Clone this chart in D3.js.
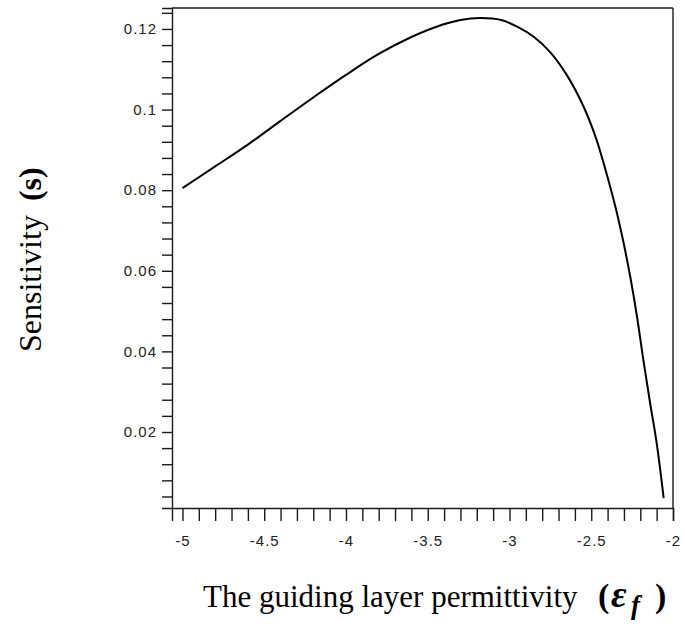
<!DOCTYPE html>
<html>
<head>
<meta charset="utf-8">
<script src="https://cdn.jsdelivr.net/npm/d3@7"></script>
<style>
  body { margin: 0; background: #fff; }
  svg { display: block; }
</style>
</head>
<body>
<svg></svg>
<script>
// permittivity values (x) and sensitivity
let permittivity = [-5.0, -4.8, -4.6, -4.4, -4.2, -4.0, -3.8, -3.6, -3.45, -3.3,
  -3.18, -3.05, -2.95, -2.85, -2.75, -2.65, -2.55, -2.47, -2.4, -2.35,
  -2.3, -2.26, -2.22, -2.18, -2.14, -2.1, -2.057]
let sensitivity = [0.0805, 0.0859, 0.0913, 0.0972, 0.1030, 0.1086, 0.1138, 0.1180, 0.1205, 0.1222,
  0.1227, 0.1222, 0.1205, 0.1180, 0.1142, 0.1086, 0.1010, 0.0928, 0.0832, 0.0755,
  0.0665, 0.0582, 0.0486, 0.0375, 0.0272, 0.0173, 0.0036]

let xTickLabels = [-5, -4.5, -4, -3.5, -3, -2.5, -2]
let yTickLabels = [0.02, 0.04, 0.06, 0.08, 0.1, 0.12]

let width = 685
let height = 624
let plotLeft = 172, plotRight = 673, plotTop = 8, plotBottom = 508

let svg = d3.select('svg').attr('width', width).attr('height', height)

let xScale = d3.scaleLinear().domain([-5.064, -2]).range([plotLeft, plotRight])
let yScale = d3.scaleLinear().domain([0.00114, 0.1252]).range([plotBottom, plotTop])

// minor ticks every 0.1 / 0.004
let xMinor = d3.range(0, 31).map(i => +(-5 + i * 0.1).toFixed(2))
let yMinor = d3.range(1, 32).map(i => +(i * 0.004).toFixed(3))

let isLabel = (list, d) => list.some(v => Math.abs(v - d) < 1e-6)

let xAxis = d3.axisBottom(xScale)
  .tickValues(xMinor)
  .tickSizeInner(13).tickSizeOuter(13).tickPadding(14)
  .tickFormat(d => isLabel(xTickLabels, d) ? String(d) : '')

let yAxis = d3.axisLeft(yScale)
  .tickValues(yMinor)
  .tickSizeInner(10).tickSizeOuter(10).tickPadding(5)
  .tickFormat(d => isLabel(yTickLabels, d) ? String(d) : '')

let gx = svg.append('g').attr('transform', 'translate(0,' + plotBottom + ')').call(xAxis)
let gy = svg.append('g').attr('transform', 'translate(' + plotLeft + ',0)').call(yAxis)

for (let g of [gx, gy]) {
  g.selectAll('path, line').attr('stroke', '#1a1a1a').attr('stroke-width', 1.4)
  g.selectAll('text')
    .attr('fill', '#222')
    .style('font-family', '"Liberation Sans", Arial, sans-serif')
    .style('font-size', '15px')
    .style('letter-spacing', '1px')
}

// top and right frame
svg.append('line').attr('x1', plotLeft).attr('x2', plotRight).attr('y1', plotTop).attr('y2', plotTop)
  .attr('stroke', '#1a1a1a').attr('stroke-width', 1.4)
svg.append('line').attr('x1', plotRight).attr('x2', plotRight).attr('y1', plotTop).attr('y2', plotBottom)
  .attr('stroke', '#1a1a1a').attr('stroke-width', 1.4)

let line = d3.line()
  .x((d, i) => xScale(permittivity[i]))
  .y(d => yScale(d))
  .curve(d3.curveCatmullRom.alpha(0.5))

svg.append('path')
  .datum(sensitivity)
  .attr('d', line)
  .attr('fill', 'none')
  .attr('stroke', '#000')
  .attr('stroke-width', 2)

// axis titles
let serif = '"Liberation Serif", "Times New Roman", serif'

let xt = svg.append('text')
  .attr('x', 203).attr('y', 607)
  .style('font-family', serif).style('font-size', '31px')
xt.append('tspan').text('The guiding layer permittivity')
xt.append('tspan').attr('x', 598).style('font-weight', 'bold').style('font-size', '34px').text('(')
xt.append('tspan').attr('x', 611).style('font-weight', 'bold').style('font-style', 'italic')
  .style('font-size', '38px').text('ε')
xt.append('tspan').attr('x', 631).attr('dy', 7).style('font-weight', 'bold').style('font-style', 'italic')
  .style('font-size', '27px').text('f')
xt.append('tspan').attr('x', 655).attr('dy', -7).style('font-weight', 'bold').style('font-size', '34px').text(')')

let yt = svg.append('text')
  .attr('transform', 'translate(41,352) rotate(-90)')
  .style('font-family', serif).style('font-size', '32px')
yt.append('tspan').text('Sensitivity')
yt.append('tspan').attr('dx', 14).style('font-weight', 'bold').text('(s)')
</script>
</body>
</html>
